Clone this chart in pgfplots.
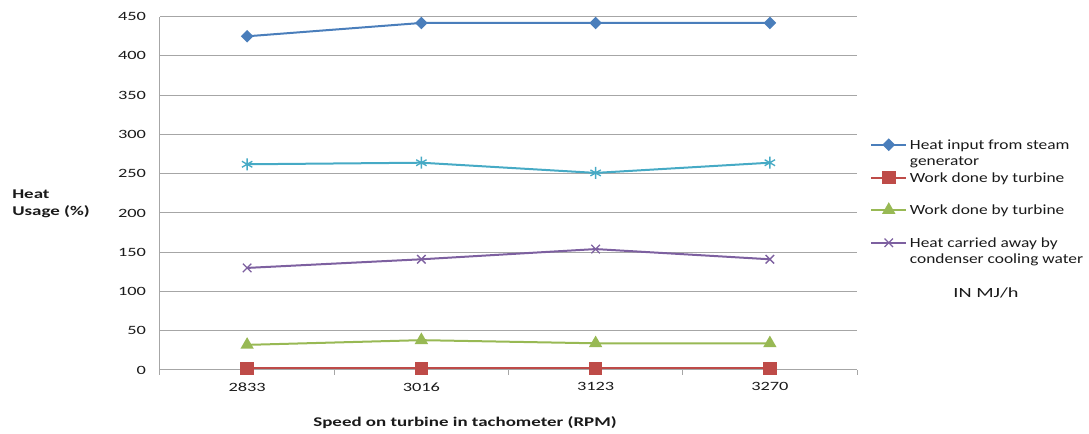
\documentclass[border=0pt]{standalone}
\usepackage{pgfplots}
\pgfplotsset{compat=1.18}
\usepackage{fontspec}
\setmainfont{Carlito}[FakeStretch=1.24]
\newfontfamily\tickfont{Carlito}[FakeStretch=1.45]
\newfontfamily\labfont{Carlito}[FakeStretch=1.42]
\newfontfamily\unitfont{Carlito}[FakeStretch=1.45]
\definecolor{sblue}{HTML}{4A7EBB}
\definecolor{sred}{HTML}{BE4B48}
\definecolor{sgreen}{HTML}{98B954}
\definecolor{spurple}{HTML}{7D60A0}
\definecolor{scyan}{HTML}{46AAC5}
\definecolor{gridgray}{HTML}{A6A6A6}
\definecolor{txt}{HTML}{1A1A1A}

\begin{document}
\begin{tikzpicture}
\path[use as bounding box] (-120pt,-48pt) rectangle (696.75pt,277.5pt);
\begin{axis}[
  scale only axis, width=522.75pt, height=265pt,
  xmin=-0.5, xmax=3.5, ymin=0, ymax=450,
  xtick={0,1,2,3}, xticklabels={2833,3016,3123,3270},
  minor xtick={-0.5,0.5,1.5,2.5,3.5},
  ytick={0,50,...,450},
  ymajorgrids, grid style={gridgray, line width=0.75pt},
  axis x line*=bottom, axis y line*=left,
  axis line style={gridgray, line width=0.75pt},
  tick align=outside,
  major tick length=0pt, minor tick length=3.75pt,
  minor tick style={gridgray, line width=0.75pt},
  /pgf/number format/assume math mode=true,
  tick label style={font=\tickfont\fontsize{9.5}{11}\selectfont, text=txt},
  yticklabel style={xshift=-7pt},
  xticklabel style={yshift=-6pt},
  every axis y label/.style={at={(axis description cs:-0.2123,0.469)}, anchor=west, align=left,
    inner sep=0pt, font=\labfont\bfseries\fontsize{10}{12.75}\selectfont, text=txt},
  every axis x label/.style={at={(axis description cs:0.4376,-0.150)}, anchor=center,
    font=\labfont\bfseries\fontsize{10}{12}\selectfont, text=txt},
  ylabel={Heat\\Usage (\%)},
  xlabel={Speed on turbine in tachometer (RPM)},
  legend style={at={(axis description cs:1.0187,0.665)}, anchor=north west, draw=none, fill=none,
    font=\fontsize{10.5}{12.3}\selectfont, text=txt, row sep=5pt, inner sep=0pt,
    cells={anchor=base west}},
  legend image code/.code={\draw[mark repeat=2,mark phase=2,#1] plot coordinates {(0pt,3.5pt) (13.1pt,3.5pt) (26.25pt,3.5pt)};},
  every axis plot/.append style={line width=1.5pt},
]
\addplot[sblue, mark=square*, mark size=2.6pt, mark options={solid, rotate=45}]
  coordinates {(0,425) (1,442) (2,442) (3,442)};
\addlegendentry{\begin{tabular}[t]{@{}l@{}}Heat input from steam\\generator\end{tabular}}
\addplot[sred, mark=square*, mark size=4.3pt, mark options={solid}]
  coordinates {(0,2) (1,2) (2,2) (3,2)};
\addlegendentry{\rule{0pt}{14.2pt}Work done by turbine}
\addplot[sgreen, mark=triangle*, mark size=4.3pt, mark options={solid}]
  coordinates {(0,32) (1,38) (2,34) (3,34)};
\addlegendentry{\rule{0pt}{13.65pt}Work done by turbine}
\addplot[spurple, mark=x, mark size=4.5pt, mark options={solid, line width=1pt}]
  coordinates {(0,130) (1,141) (2,154) (3,141)};
\addlegendentry{\begin{tabular}[t]{@{}l@{}}\rule{0pt}{14.15pt}Heat carried away by\\condenser cooling water\end{tabular}}
\addplot[scyan, mark=asterisk, mark size=4.5pt, mark options={solid, line width=1pt}, forget plot]
  coordinates {(0,262) (1,264) (2,251) (3,264)};
\end{axis}
\node[font=\unitfont\fontsize{10.5}{12.75}\selectfont, text=txt] at (619.5pt,57.75pt) {IN MJ/h};
\end{tikzpicture}
\end{document}
